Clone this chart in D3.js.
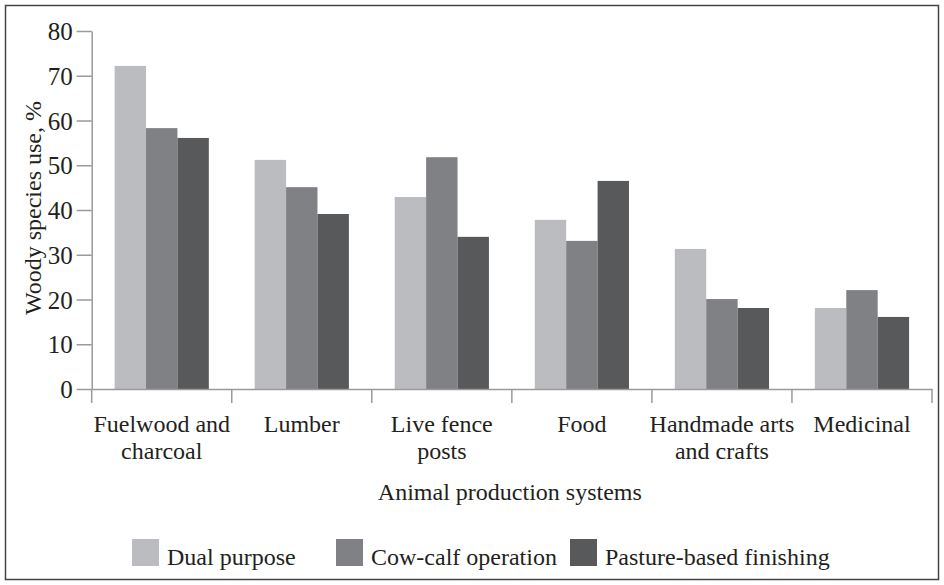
<!doctype html>
<html lang="en">
<head>
  <meta charset="utf-8">
  <title>Woody species use</title>
  <style>
    body { margin: 0; background: #fff; }
    svg { display: block; }
    .axis path, .axis line { stroke: #9a9a9a; stroke-width: 1.5; }
  </style>
</head>
<body>
  <div id="chart"></div>
  <script src="https://cdn.jsdelivr.net/npm/d3@7"></script>
  <script>
(function() {

  var categories = ["Fuelwood and\ncharcoal", "Lumber", "Live fence\nposts", "Food", "Handmade arts\nand crafts", "Medicinal"];
  var series = ["Dual purpose", "Cow-calf operation", "Pasture-based finishing"];
  var dualPurpose = [72.2, 51.2, 42.9, 37.8, 31.3, 18.1];
  var cowCalf = [58.3, 45.1, 51.8, 33.1, 20.1, 22.1];
  var pastureFinishing = [56.1, 39.1, 34.0, 46.5, 18.1, 16.1];
  var yTicks = [0, 10, 20, 30, 40, 50, 60, 70, 80];
  var colors = ["#bbbcc0", "#808185", "#58595b"];

  var values = [dualPurpose, cowCalf, pastureFinishing];
  var width = 944, height = 585;
  var left = 91.7, right = 932, top = 31, bottom = 389;
  var serif = "'Liberation Serif', 'DejaVu Serif', 'Times New Roman', Times, serif";

  var svg = d3.select("#chart").append("svg")
      .attr("width", width)
      .attr("height", height)
      .style("font-family", serif);

  // outer frame
  svg.append("rect")
      .attr("x", 5.5).attr("y", 5.5)
      .attr("width", 933).attr("height", 574)
      .attr("fill", "none")
      .attr("stroke", "#444")
      .attr("stroke-width", 1.5);

  var x0 = d3.scaleBand().domain(categories).range([left, right]).paddingInner(0).paddingOuter(0);
  var x1 = d3.scaleBand().domain(series).range([0, x0.bandwidth()]).paddingInner(0).paddingOuter(0.73);
  var y = d3.scaleLinear().domain([0, 80]).range([bottom, top]);

  // bars
  var groups = svg.append("g").selectAll("g")
      .data(categories)
      .enter().append("g")
      .attr("transform", function(d) { return "translate(" + x0(d) + ",0)"; });

  groups.selectAll("rect")
      .data(function(d, i) { return series.map(function(s, j) { return {s: s, v: values[j][i], j: j}; }); })
      .enter().append("rect")
      .attr("x", function(d) { return x1(d.s); })
      .attr("width", x1.bandwidth())
      .attr("y", function(d) { return y(d.v); })
      .attr("height", function(d) { return bottom - y(d.v); })
      .attr("fill", function(d) { return colors[d.j]; });

  // y axis
  var yAxis = svg.append("g")
      .attr("class", "axis")
      .attr("transform", "translate(" + left + ",0)")
      .call(d3.axisLeft(y).tickValues(yTicks).tickSize(15).tickPadding(4).tickSizeOuter(0));
  yAxis.attr("font-family", null).attr("font-size", null);
  yAxis.selectAll("text")
      .style("font-family", serif)
      .style("font-size", "25px")
      .style("fill", "#231f20")
      .attr("dy", "0.34em");

  // x axis
  var xAxis = svg.append("g")
      .attr("class", "axis")
      .attr("transform", "translate(0," + bottom + ")")
      .call(d3.axisBottom(x0).tickSize(0).tickSizeOuter(0).tickFormat(""));

  var bounds = categories.map(function(c) { return x0(c); }).concat([x0(categories[categories.length - 1]) + x0.bandwidth()]);
  xAxis.selectAll(".bound")
      .data(bounds)
      .enter().append("line")
      .attr("class", "bound")
      .attr("x1", function(d) { return d; })
      .attr("x2", function(d) { return d; })
      .attr("y1", 0)
      .attr("y2", 14);

  var labels = svg.append("g").selectAll("text")
      .data(categories)
      .enter().append("text")
      .attr("text-anchor", "middle")
      .attr("x", function(d) { return x0(d) + x0.bandwidth() / 2; })
      .attr("y", 432)
      .style("font-family", serif)
      .style("font-size", "24px")
      .style("fill", "#231f20");
  labels.selectAll("tspan")
      .data(function(d) { return d.split("\n"); })
      .enter().append("tspan")
      .attr("x", function() { return this.parentNode.getAttribute("x"); })
      .attr("dy", function(d, i) { return i ? 27 : 0; })
      .text(function(d) { return d; });

  // axis titles
  svg.append("text")
      .attr("text-anchor", "middle")
      .attr("x", (left + right) / 2 - 2)
      .attr("y", 500)
      .style("font-family", serif)
      .style("font-size", "24px")
      .style("fill", "#231f20")
      .text("Animal production systems");

  svg.append("text")
      .attr("text-anchor", "middle")
      .attr("transform", "translate(41,208) rotate(-90)")
      .style("font-family", serif)
      .style("font-size", "24px")
      .style("fill", "#231f20")
      .text("Woody species use, %");

  // legend
  var legendX = [132, 336, 570];
  var legend = svg.append("g").selectAll("g")
      .data(series)
      .enter().append("g")
      .attr("transform", function(d, i) { return "translate(" + legendX[i] + ",539)"; });
  legend.append("rect")
      .attr("width", 27).attr("height", 27)
      .attr("fill", function(d, i) { return colors[i]; });
  legend.append("text")
      .attr("x", 35)
      .attr("y", 26)
      .style("font-family", serif)
      .style("font-size", "24px")
      .style("fill", "#231f20")
      .text(function(d) { return d; });

})();
  </script>
</body>
</html>
